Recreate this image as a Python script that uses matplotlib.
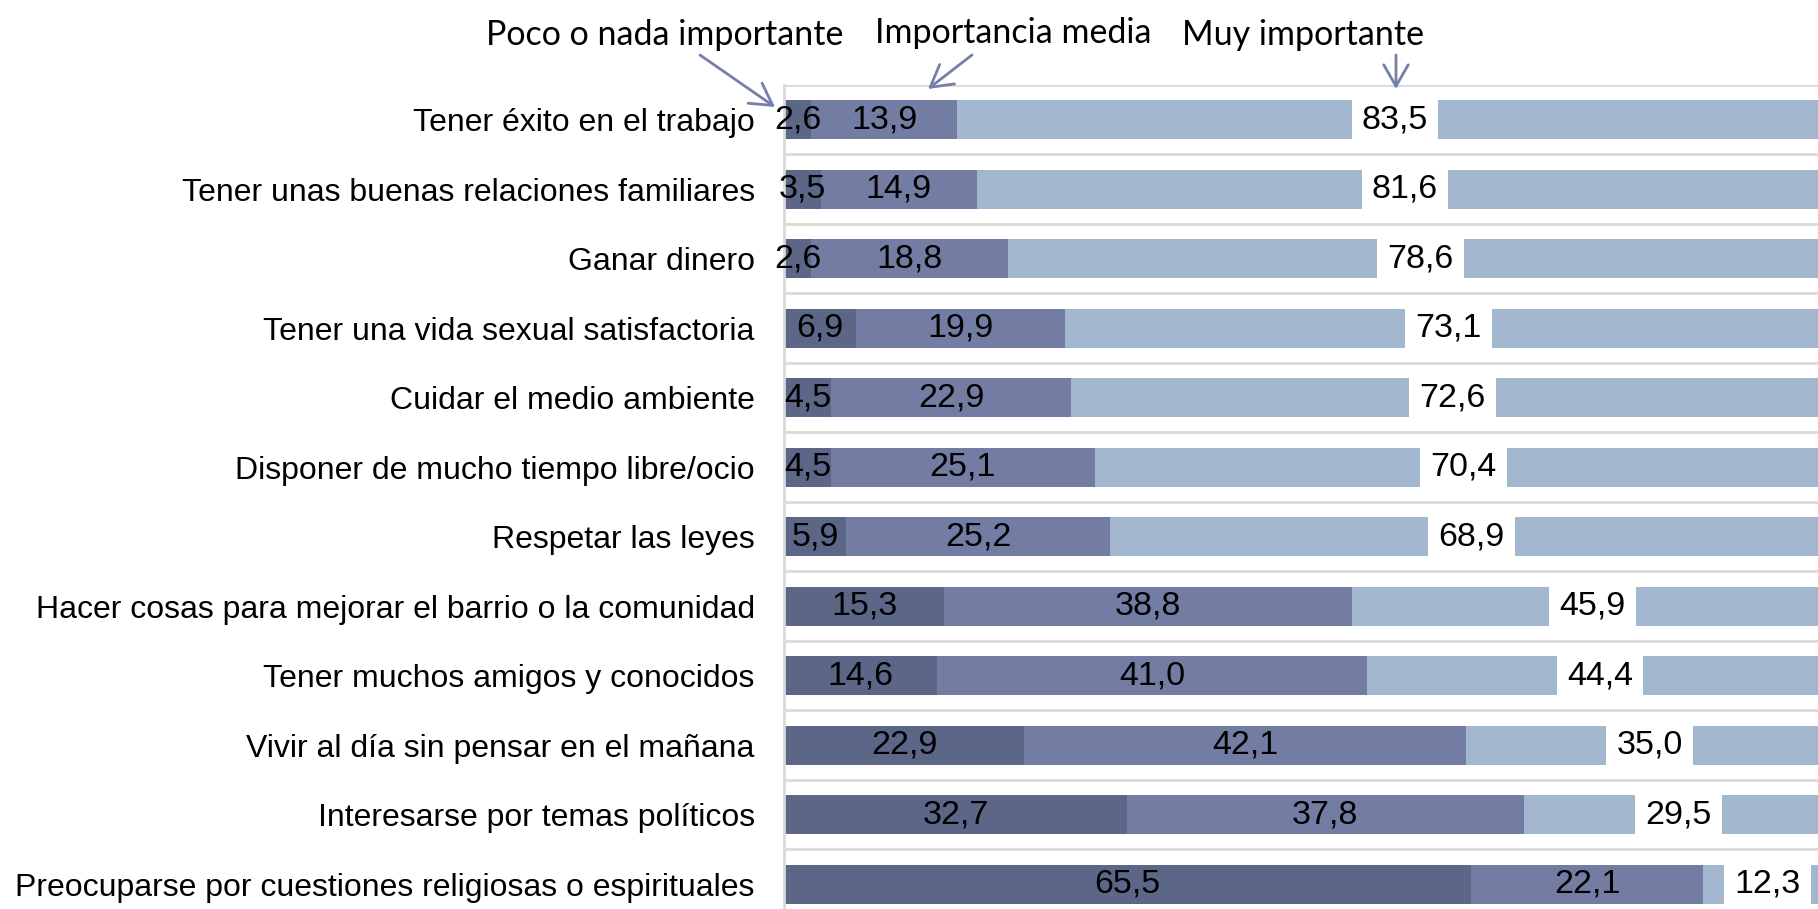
import matplotlib.pyplot as plt
import numpy as np

categorias = [
    "Tener éxito en el trabajo",
    "Tener unas buenas relaciones familiares",
    "Ganar dinero",
    "Tener una vida sexual satisfactoria",
    "Cuidar el medio ambiente",
    "Disponer de mucho tiempo libre/ocio",
    "Respetar las leyes",
    "Hacer cosas para mejorar el barrio o la comunidad",
    "Tener muchos amigos y conocidos",
    "Vivir al día sin pensar en el mañana",
    "Interesarse por temas políticos",
    "Preocuparse por cuestiones religiosas o espirituales",
]
poco = [2.6, 3.5, 2.6, 6.9, 4.5, 4.5, 5.9, 15.3, 14.6, 22.9, 32.7, 65.5]
media = [13.9, 14.9, 18.8, 19.9, 22.9, 25.1, 25.2, 38.8, 41.0, 42.1, 37.8, 22.1]
muy = [83.5, 81.6, 78.6, 73.1, 72.6, 70.4, 68.9, 45.9, 44.4, 35.0, 29.5, 12.3]

series_nombres = ["Poco o nada importante", "Importancia media", "Muy importante"]
colores = ["#5c6686", "#737da3", "#a2b7ce"]

plt.rcParams['font.family'] = ['Liberation Sans', 'DejaVu Sans']

fig = plt.figure(figsize=(18.18, 9.09), dpi=100)
ax = fig.add_axes([784 / 1818, -0.011, 1049 / 1818, 0.9175])

y = np.arange(len(categorias))
izq = np.zeros(len(categorias))
for i, vals in enumerate([poco, media, muy]):
    vals = np.array(vals)
    ax.barh(y, vals, left=izq, height=0.56, color=colores[i], edgecolor='none')
    for yy, l, v in zip(y, izq, vals):
        txt = f"{v:.1f}".replace(".", ",")
        if i == 2:
            ax.text(l + v / 2, yy, txt, ha='center', va='center', fontsize=24.5,
                    bbox=dict(boxstyle='square,pad=0.3', fc='white', ec='none'))
        else:
            ax.text(l + v / 2, yy, txt, ha='center', va='center', fontsize=24.5)
    izq = izq + vals

ax.set_xlim(0, 100)
ax.set_ylim(len(categorias) - 0.5, -0.5)
ax.set_yticks(y)
ax.set_yticklabels(categorias, fontsize=23)
ax.set_yticks(np.arange(-0.5, len(categorias), 1), minor=True)
ax.tick_params(axis='y', which='both', length=0, pad=21)
ax.set_xticks([])
ax.grid(axis='y', which='minor', color='#d9d9d9', linewidth=2)
ax.set_axisbelow(True)
for s in ['top', 'right', 'bottom']:
    ax.spines[s].set_visible(False)
ax.spines['left'].set_color('#d9d9d9')
ax.spines['left'].set_linewidth(2)

# rótulos de las series con flechas (coordenadas en píxeles de la figura)
flecha = dict(arrowstyle='->,head_length=0.7,head_width=0.4', color='#7480a8',
              lw=2, mutation_scale=22, shrinkA=0, shrinkB=0)
etiquetas = [
    (series_nombres[0], (665, 874), (700, 854), (775, 802)),
    (series_nombres[1], (1013, 876), (972, 854), (928, 820)),
    (series_nombres[2], (1303, 874), (1396, 854), (1396, 820)),
]
for nombre, pos_txt, ini, fin in etiquetas:
    fig.text(pos_txt[0] / 1818, pos_txt[1] / 909, nombre, ha='center', va='center',
             fontsize=24.5, family=['Lato', 'DejaVu Sans'])
    ax.annotate('', xy=fin, xytext=ini, xycoords='figure pixels',
                textcoords='figure pixels', arrowprops=flecha, annotation_clip=False)

fig.savefig('out.png', dpi=100)
